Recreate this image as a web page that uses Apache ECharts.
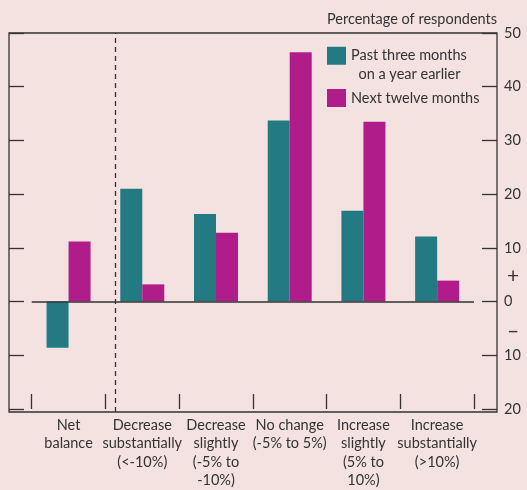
<!DOCTYPE html>
<html>
<head>
<meta charset="utf-8">
<script src="https://cdn.jsdelivr.net/npm/echarts@6/dist/echarts.min.js"></script>
<style>
  html, body { margin: 0; padding: 0; background: #f4e2e1; }
  #main { width: 527px; height: 490px; }
</style>
</head>
<body>
<div id="main"></div>
<script>
// categories along the bottom
var categories = [
    'Net\nbalance',
    'Decrease\nsubstantially\n(<-10%)',
    'Decrease\nslightly\n(-5% to\n-10%)',
    'No change\n(-5% to 5%)',
    'Increase\nslightly\n(5% to\n10%)',
    'Increase\nsubstantially\n(>10%)'
];
var seriesNames = ['Past three months on a year earlier', 'Next twelve months'];
var pastThree = [-8.6, 21.0, 16.3, 33.7, 16.9, 12.1];
var nextTwelve = [11.2, 3.2, 12.8, 46.4, 33.5, 3.9];
// sign marks on the right axis
var signLabels = { '5': '+', '-5': '\u2013' };

var ink = '#333';
var teal = '#237a82';
var magenta = '#b01c8a';
var font = 'Lato';

var myChart = echarts.init(document.getElementById('main'));

var tickStyle = { show: true, inside: true, length: 15, lineStyle: { color: ink, width: 1.3 } };

var option = {
    backgroundColor: '#f4e2e1',
    animation: false,
    textStyle: { fontFamily: font },
    title: {
        text: 'Percentage of respondents',
        right: 30,
        top: 12,
        padding: 0,
        textStyle: { fontFamily: font, fontSize: 14.5, fontWeight: 'normal', color: ink }
    },
    legend: [
        {
            data: [seriesNames[0]],
            left: 327,
            top: 28,
            padding: 0,
            icon: 'rect',
            itemWidth: 19,
            itemHeight: 18,
            itemGap: 8,
            // blank first line keeps the icon level with the first line of text
            formatter: function(){ return ' \nPast three months\n  on a year earlier'; },
            textStyle: { fontFamily: font, fontSize: 14.5, color: ink, lineHeight: 18.5 }
        },
        {
            data: [seriesNames[1]],
            left: 327,
            top: 89,
            padding: 0,
            icon: 'rect',
            itemWidth: 19,
            itemHeight: 18,
            textStyle: { fontFamily: font, fontSize: 14.5, color: ink, lineHeight: 18 }
        }
    ],
    grid: [
        // bars
        { left: 31.7, right: 53, top: 33, bottom: 78 },
        // frame
        { left: 9, right: 30, top: 33, bottom: 78, show: true, borderColor: ink, borderWidth: 1.3, backgroundColor: 'transparent' }
    ],
    xAxis: [
        {
            type: 'category',
            gridIndex: 0,
            data: categories,
            axisLine: { show: false, onZero: false },
            axisTick: tickStyle,
            axisLabel: { interval: 0, color: ink, fontSize: 14.5, lineHeight: 18.5, margin: 7, fontFamily: font }
        },
        {
            type: 'value',
            gridIndex: 1,
            min: -0.808,
            max: 5.812,
            show: false
        }
    ],
    yAxis: [
        {
            // left frame ticks, also the bars' scale
            type: 'value', gridIndex: 0, position: 'left', offset: 22.7,
            min: -20, max: 50, interval: 10,
            axisLine: { show: false, onZero: false },
            axisTick: tickStyle,
            axisLabel: { show: false },
            splitLine: { show: false }
        },
        {
            type: 'value', gridIndex: 0, position: 'right', offset: 23,
            min: -20, max: 50, interval: 10,
            axisLine: { show: false, onZero: false },
            axisTick: tickStyle,
            axisLabel: {
                color: ink, fontSize: 14.5, margin: 7, fontFamily: font,
                formatter: function(v){ return String(Math.abs(v)); }
            },
            splitLine: { show: false }
        },
        {
            type: 'value', gridIndex: 1, position: 'right', min: -20, max: 50, interval: 5,
            axisLine: { show: false, onZero: false },
            axisTick: { show: false },
            axisLabel: {
                color: ink, fontSize: 21, margin: 10, fontFamily: font,
                formatter: function(v){ return signLabels[String(v)] || ''; }
            },
            splitLine: { show: false }
        }
    ],
    series: [
        {
            name: seriesNames[0],
            type: 'bar',
            xAxisIndex: 0,
            yAxisIndex: 0,
            data: pastThree,
            barWidth: 22,
            barGap: '0%',
            itemStyle: { color: teal },
            markLine: {
                silent: true,
                symbol: 'none',
                label: { show: false },
                lineStyle: { color: ink, width: 1.5, type: 'solid' },
                data: [{ yAxis: 0 }]
            }
        },
        {
            name: seriesNames[1],
            type: 'bar',
            xAxisIndex: 0,
            yAxisIndex: 0,
            data: nextTwelve,
            barWidth: 22,
            barGap: '0%',
            itemStyle: { color: magenta }
        },
        {
            // holder for the dashed divider
            type: 'line',
            xAxisIndex: 1,
            yAxisIndex: 2,
            data: [],
            markLine: {
                silent: true,
                symbol: 'none',
                label: { show: false },
                lineStyle: { color: ink, width: 1.3, type: [5, 4] },
                data: [{ xAxis: 0.63 }]
            }
        }
    ]
};
myChart.setOption(option);
</script>
</body>
</html>
